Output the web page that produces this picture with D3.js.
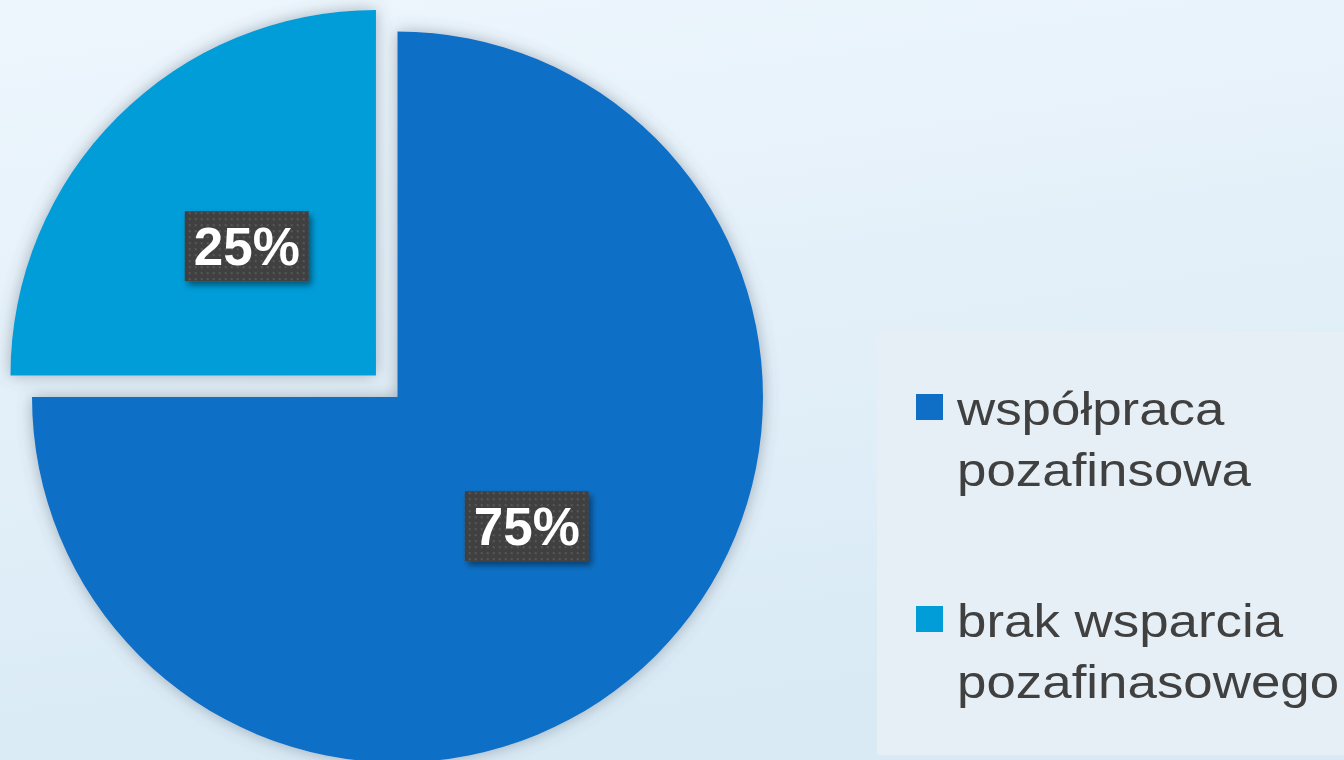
<!DOCTYPE html>
<html>
<head>
<meta charset="utf-8">
<script src="https://cdn.jsdelivr.net/npm/d3@7"></script>
<style>
html,body{margin:0;padding:0;overflow:hidden;}
svg{display:block;}
</style>
</head>
<body>
<svg id="chart" width="1344" height="760"></svg>
<script>
const categories = ["współpraca pozafinsowa", "brak wsparcia pozafinasowego"];
const legendLines = [["współpraca", "pozafinsowa"], ["brak wsparcia", "pozafinasowego"]];
const values = [75, 25];
const labels = ["75%", "25%"];
const colors = ["#0f6fc6", "#009dd9"];

const svg = d3.select("#chart");
const W = 1344, H = 760;
const defs = svg.append("defs");

const bg = defs.append("linearGradient").attr("id","bg").attr("x1",0).attr("y1",0).attr("x2",0.25).attr("y2",1);
bg.append("stop").attr("offset","0%").attr("stop-color","#eef6fd");
bg.append("stop").attr("offset","100%").attr("stop-color","#d9eaf5");

const sh = defs.append("filter").attr("id","sliceShadow").attr("x","-20%").attr("y","-20%").attr("width","140%").attr("height","140%");
sh.append("feDropShadow").attr("dx",0).attr("dy",0).attr("stdDeviation",8).attr("flood-color","#4a5a68").attr("flood-opacity",0.45);

const lsh = defs.append("filter").attr("id","labShadow").attr("x","-20%").attr("y","-20%").attr("width","140%").attr("height","150%");
lsh.append("feDropShadow").attr("dx",3).attr("dy",4).attr("stdDeviation",3).attr("flood-color","#000").attr("flood-opacity",0.45);

const pat = defs.append("pattern").attr("id","dots").attr("patternUnits","userSpaceOnUse").attr("width",6).attr("height",6);
pat.append("rect").attr("width",6).attr("height",6).attr("fill","#404040");
pat.append("rect").attr("x",2).attr("y",2).attr("width",2).attr("height",2).attr("fill","#585858");

svg.append("rect").attr("width",W).attr("height",H).attr("fill","url(#bg)");

// legend panel
svg.append("rect").attr("x",877).attr("y",332).attr("width",W-877).attr("height",423).attr("fill","#e6eff5");

const cx = 397.5, cy = 397, r = 365.5, explode = 30.5;
const pie = d3.pie().sort(null).startAngle(0).endAngle(2*Math.PI)(values);
const arc = d3.arc().innerRadius(0).outerRadius(r);

const g = svg.append("g").attr("transform",`translate(${cx},${cy})`);
const offsets = pie.map((d,i) => {
  if (i === 1) {
    const a = (d.startAngle + d.endAngle)/2;
    return [Math.sin(a)*explode, -Math.cos(a)*explode];
  }
  return [0,0];
});

g.selectAll("path.slice").data(pie).join("path")
  .attr("class","slice")
  .attr("d", arc)
  .attr("fill",(d,i)=>colors[i])
  .attr("transform",(d,i)=>`translate(${offsets[i][0]},${offsets[i][1]})`)
  .attr("filter","url(#sliceShadow)");

const labArc = d3.arc().innerRadius(0).outerRadius(r);
const lab = g.selectAll("g.lab").data(pie).join("g").attr("class","lab")
  .attr("transform",(d,i)=>{const c = labArc.centroid(d); return `translate(${c[0]+offsets[i][0]},${c[1]+offsets[i][1]})`;});
lab.append("rect").attr("x",-62).attr("y",-35).attr("width",124).attr("height",70)
  .attr("fill","url(#dots)").attr("filter","url(#labShadow)");
lab.append("text").attr("text-anchor","middle").attr("y",19)
  .attr("font-family","'Liberation Sans', Arial, sans-serif").attr("font-weight","bold")
  .attr("font-size",53).attr("fill","#ffffff").text((d,i)=>labels[i]);

// legend
const legY = [394, 606];
const leg = svg.append("g");
categories.forEach((c,i)=>{
  leg.append("rect").attr("x",916).attr("y",legY[i]).attr("width",27).attr("height",26).attr("fill",colors[i]);
  const t = leg.append("text").attr("font-family","'Liberation Sans', Arial, sans-serif")
    .attr("font-size",47).attr("fill","#404040")
    .attr("transform",`translate(957,${legY[i]+31}) scale(1.125,1)`);
  legendLines[i].forEach((ln,j)=>{
    t.append("tspan").attr("x",0).attr("y",j*61).text(ln);
  });
});
</script>
</body>
</html>
